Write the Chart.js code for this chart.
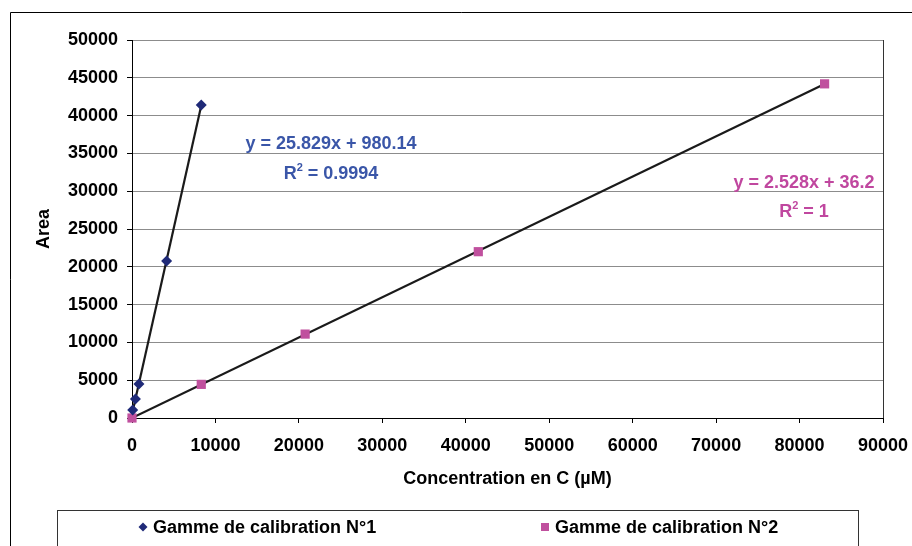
<!DOCTYPE html>
<html>
<head>
<meta charset="utf-8">
<script src="https://cdn.jsdelivr.net/npm/chart.js@4"></script>
<style>
html, body { margin: 0; padding: 0; background: #fff; }
</style>
</head>
<body>
<canvas id="calib" width="912" height="546"></canvas>
<script>
// calibration ranges
const concN1 = [83, 415, 830, 4150, 8300];
const areaN1 = [1060, 2510, 4500, 20770, 41400];
const concN2 = [0, 8300, 20750, 41500, 83000];
const areaN2 = [0, 4450, 11100, 22000, 44200];

const labelN1 = 'Gamme de calibration N°1';
const labelN2 = 'Gamme de calibration N°2';
const eqN1 = ['y = 25.829x + 980.14', '0.9994'];
const eqN2 = ['y = 2.528x + 36.2', '1'];

const yTicks = [0, 5000, 10000, 15000, 20000, 25000, 30000, 35000, 40000, 45000, 50000];
const xTicks = [0, 10000, 20000, 30000, 40000, 50000, 60000, 70000, 80000, 90000];

const navy = '#1f2a78';
const pink = '#c0509e';
const FONT = 'Arial, "Liberation Sans", sans-serif';

function toPoints(xs, ys) {
    return xs.map((x, i) => ({ x: x, y: ys[i] }));
}

// least squares fit, drawn between first and last x like Excel's trendline
function trend(xs, ys) {
    let n = xs.length, sx = 0, sy = 0, sxx = 0, sxy = 0;
    for (let i = 0; i < n; i++) {
        sx += xs[i]; sy += ys[i];
        sxx += xs[i] * xs[i]; sxy += xs[i] * ys[i];
    }
    let a = (n * sxy - sx * sy) / (n * sxx - sx * sx);
    let b = (sy - a * sx) / n;
    let x0 = Math.min(...xs), x1 = Math.max(...xs);
    return [{ x: x0, y: a * x0 + b }, { x: x1, y: a * x1 + b }];
}

const decorations = {
    id: 'decorations',
    beforeDraw(chart) {
        const c = chart.ctx;
        const a = chart.chartArea;
        c.save();
        c.strokeStyle = '#000';
        c.lineWidth = 1;
        // outer frame of the excel chart
        c.beginPath();
        c.moveTo(10.5, 546);
        c.lineTo(10.5, 12.5);
        c.lineTo(912, 12.5);
        c.stroke();
        // plot area border
        c.strokeStyle = '#333';
        c.strokeRect(a.left + 0.5, a.top + 0.5, a.right - a.left, a.bottom - a.top);
        c.restore();
    },
    afterDraw(chart) {
        const c = chart.ctx;
        c.save();
        // trendline equations
        function eq(lines, color, cx, y1, y2) {
            c.fillStyle = color;
            c.font = 'bold 18px ' + FONT;
            c.textAlign = 'center';
            c.textBaseline = 'alphabetic';
            c.fillText(lines[0], cx, y1);
            let rest = ' = ' + lines[1];
            let wR = c.measureText('R').width;
            let wRest = c.measureText(rest).width;
            c.font = 'bold 11px ' + FONT;
            let w2 = c.measureText('2').width;
            let start = cx - (wR + w2 + wRest) / 2;
            c.textAlign = 'left';
            c.font = 'bold 18px ' + FONT;
            c.fillText('R', start, y2);
            c.font = 'bold 11px ' + FONT;
            c.fillText('2', start + wR, y2 - 8);
            c.font = 'bold 18px ' + FONT;
            c.fillText(rest, start + wR + w2, y2);
        }
        eq(eqN1, '#3a56a8', 331, 149, 179);
        eq(eqN2, '#c0479f', 804, 188, 217);

        // legend box, cut by the bottom of the picture like the original
        c.strokeStyle = '#333';
        c.lineWidth = 1;
        c.strokeRect(57.5, 510.5, 801, 60);
        const items = chart.data.datasets.filter(d => !d.trendline);
        const slots = [143, 545];
        items.forEach((d, i) => {
            let x = slots[i], y = 527;
            c.fillStyle = d.backgroundColor;
            c.beginPath();
            if (d.pointStyle === 'rectRot') {
                c.moveTo(x - 4.5, y); c.lineTo(x, y - 4.5);
                c.lineTo(x + 4.5, y); c.lineTo(x, y + 4.5);
            } else {
                c.rect(x - 4, y - 4, 8, 8);
            }
            c.fill();
            c.fillStyle = '#000';
            c.font = 'bold 18px ' + FONT;
            c.textAlign = 'left';
            c.textBaseline = 'middle';
            c.fillText(d.label, x + 10, y + 1);
        });
        c.restore();
    }
};

const tickFont = { family: FONT, size: 18, weight: 'bold' };

new Chart(document.getElementById('calib'), {
    type: 'scatter',
    data: {
        datasets: [
            {
                label: labelN1,
                data: toPoints(concN1, areaN1),
                pointStyle: 'rectRot',
                pointRadius: 5.5,
                backgroundColor: navy,
                borderColor: navy,
                borderWidth: 0,
                clip: false
            },
            {
                label: labelN2,
                data: toPoints(concN2, areaN2),
                pointStyle: 'rect',
                pointRadius: 6.5,
                backgroundColor: pink,
                borderColor: pink,
                borderWidth: 0,
                clip: false
            },
            {
                trendline: true,
                data: trend(concN1, areaN1),
                showLine: true,
                pointRadius: 0,
                borderColor: '#1a1a1a',
                borderWidth: 2.2
            },
            {
                trendline: true,
                data: trend(concN2, areaN2),
                showLine: true,
                pointRadius: 0,
                borderColor: '#1a1a1a',
                borderWidth: 2.2
            }
        ]
    },
    options: {
        responsive: false,
        animation: false,
        layout: { padding: { left: 0, right: 29, top: 40, bottom: 0 } },
        plugins: {
            legend: { display: false },
            tooltip: { enabled: false }
        },
        scales: {
            x: {
                type: 'linear',
                min: 0,
                max: 90000,
                afterFit: s => { s.height = 128; s.paddingLeft = 0; s.paddingRight = 0; },
                afterBuildTicks: s => { s.ticks = xTicks.map(v => ({ value: v })); },
                ticks: {
                    color: '#000',
                    font: tickFont,
                    padding: 12,
                    maxRotation: 0,
                    callback: v => String(v)
                },
                grid: {
                    drawOnChartArea: false,
                    tickLength: 5,
                    tickColor: '#000'
                },
                border: { color: '#000' },
                title: {
                    display: true,
                    text: 'Concentration en C (µM)',
                    color: '#000',
                    font: tickFont,
                    padding: { bottom: 56 }
                }
            },
            y: {
                min: 0,
                max: 50000,
                afterFit: s => { s.width = 132; s.paddingTop = 0; s.paddingBottom = 0; },
                afterBuildTicks: s => { s.ticks = yTicks.map(v => ({ value: v })); },
                ticks: {
                    color: '#000',
                    font: tickFont,
                    padding: 9,
                    callback: v => String(v)
                },
                grid: {
                    color: '#8c8c8c',
                    tickLength: 5,
                    tickColor: '#000'
                },
                border: { color: '#000' },
                title: {
                    display: true,
                    text: 'Area',
                    color: '#000',
                    font: tickFont,
                    padding: { top: 33 }
                }
            }
        }
    },
    plugins: [decorations]
});
</script>
</body>
</html>
